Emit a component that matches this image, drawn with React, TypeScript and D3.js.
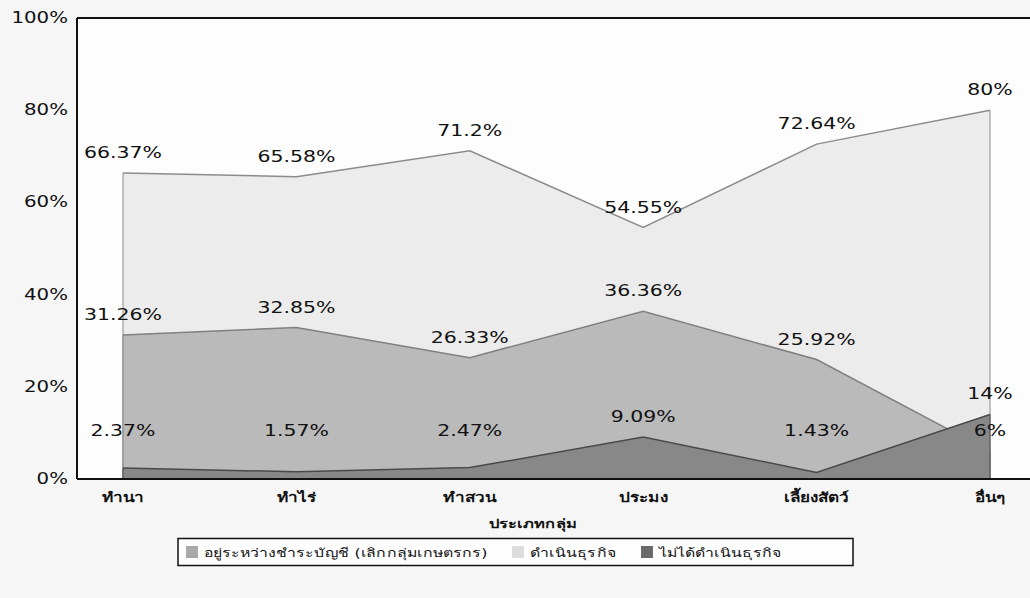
import React from "react";
import * as d3 from "d3";

// ประเภทกลุ่ม (x categories)
const categories = ["ทำนา", "ทำไร่", "ทำสวน", "ประมง", "เลี้ยงสัตว์", "อื่นๆ"];

// percent of groups per category
const operating = [66.37, 65.58, 71.2, 54.55, 72.64, 80]; // ดำเนินธุรกิจ
const liquidating = [31.26, 32.85, 26.33, 36.36, 25.92, 6]; // อยู่ระหว่างชำระบัญชี
const notOperating = [2.37, 1.57, 2.47, 9.09, 1.43, 14]; // ไม่ได้ดำเนินธุรกิจ

const yTicks = [0, 20, 40, 60, 80, 100];
const legendNames = [
  "อยู่ระหว่างชำระบัญชี (เลิกกลุ่มเกษตรกร)",
  "ดำเนินธุรกิจ",
  "ไม่ได้ดำเนินธุรกิจ",
];

const W = 1030,
  H = 598;
const left = 77,
  top = 18,
  bottom = 479;
const SX = 1.32; // the scan is stretched sideways, so is the text

const fmt = (v: number) => `${v}%`;

export default function App() {
  const x = d3.scalePoint<string>().domain(categories).range([123, 990]);
  const y = d3.scaleLinear().domain([0, 100]).range([bottom, top]);

  const area = d3
    .area<number>()
    .x((_, i) => x(categories[i])!)
    .y0(y(0))
    .y1((d) => y(d));
  const line = d3
    .line<number>()
    .x((_, i) => x(categories[i])!)
    .y((d) => y(d));

  // drawn back to front
  const series = [
    { values: operating, fill: "#ececec", stroke: "#8c8c8c" },
    { values: liquidating, fill: "#bababa", stroke: "#808080" },
    { values: notOperating, fill: "#888888", stroke: "#4a4a4a" },
  ];
  const swatches = ["#a9a9a9", "#dcdcdc", "#6a6a6a"];

  const txt = (
    key: string,
    tx: number,
    ty: number,
    s: string,
    anchor: string,
    size: number,
    weight = "normal"
  ) => (
    <text
      key={key}
      transform={`translate(${tx},${ty}) scale(${SX},1)`}
      textAnchor={anchor}
      fontSize={size}
      fontWeight={weight}
      fill="#111"
    >
      {s}
    </text>
  );

  // legend layout
  const legY = 552,
    legH = 27,
    legX0 = 178,
    legX1 = 853;
  const legItems = [
    { sx: 186, tx: 204 },
    { sx: 512, tx: 530 },
    { sx: 641, tx: 659 },
  ];

  return (
    <svg
      width={W}
      height={H}
      style={{ position: "absolute", left: 0, top: 0 }}
      fontFamily="'DejaVu Sans', 'Noto Sans', sans-serif"
    >
      <rect width={W} height={H} fill="#f6f6f6" />
      <rect x={left} y={top} width={W - left + 10} height={bottom - top} fill="#fdfdfd" />

      {series.map((s, i) => (
        <g key={i}>
          <path d={area(s.values)!} fill={s.fill} />
          <path d={line(s.values)!} fill="none" stroke={s.stroke} strokeWidth={1.5} />
          <line
            x1={x(categories[0])}
            x2={x(categories[0])}
            y1={y(s.values[0])}
            y2={y(0)}
            stroke={s.stroke}
            strokeWidth={1}
          />
          <line
            x1={x(categories[categories.length - 1])}
            x2={x(categories[categories.length - 1])}
            y1={y(s.values[s.values.length - 1])}
            y2={y(0)}
            stroke={s.stroke}
            strokeWidth={1}
          />
        </g>
      ))}

      {/* plot frame */}
      <line x1={left} x2={W} y1={top} y2={top} stroke="#111" strokeWidth={2} />
      <line x1={left} x2={left} y1={top} y2={bottom} stroke="#111" strokeWidth={2} />
      <line x1={left} x2={W} y1={bottom} y2={bottom} stroke="#111" strokeWidth={2} />

      {yTicks.map((t) => txt(`y${t}`, 68, y(t) + 5, fmt(t), "end", 15))}

      {series.map((s, i) =>
        s.values.map((v, j) =>
          txt(
            `l${i}-${j}`,
            x(categories[j])!,
            Math.min(y(v) - 15, 436),
            fmt(v),
            "middle",
            15.5
          )
        )
      )}

      {categories.map((c) => txt(`c${c}`, x(c)!, 502, c, "middle", 13, "bold"))}
      {txt("title", 533, 528, "ประเภทกลุ่ม", "middle", 12.5, "bold")}

      <rect
        x={legX0}
        y={legY - legH / 2}
        width={legX1 - legX0}
        height={legH}
        fill="#fefefe"
        stroke="#111"
        strokeWidth={1.5}
      />
      {legendNames.map((n, i) => (
        <g key={n}>
          <rect
            x={legItems[i].sx}
            y={legY - 6}
            width={12}
            height={12}
            fill={swatches[i]}
          />
          {txt(`lg${i}`, legItems[i].tx, legY + 5, n, "start", 12)}
        </g>
      ))}
    </svg>
  );
}
